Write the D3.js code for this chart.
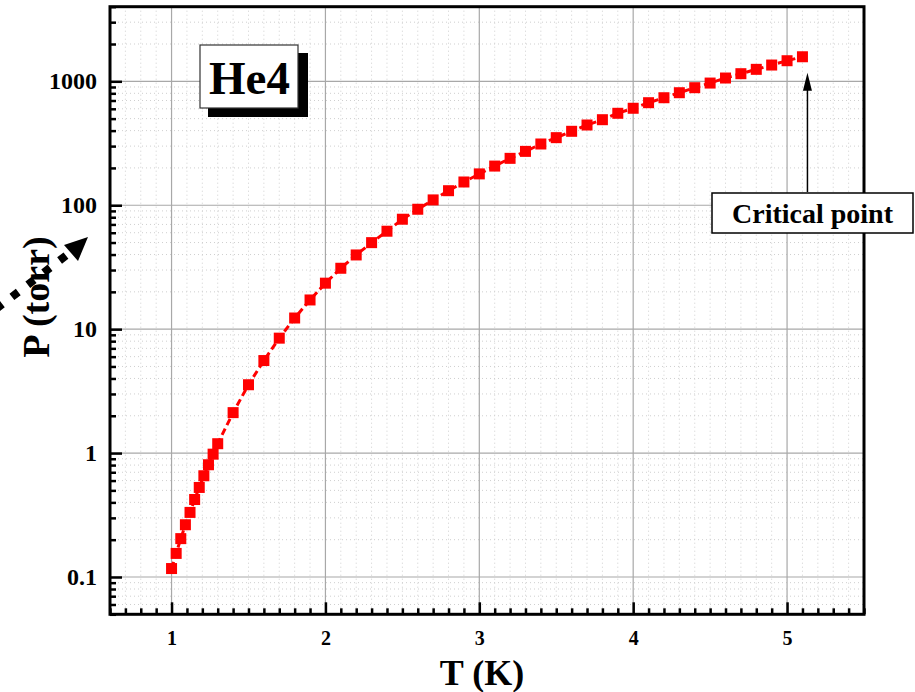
<!DOCTYPE html>
<html>
<head>
<meta charset="utf-8">
<script src="https://d3js.org/d3.v7.min.js"></script>
<style>
  html, body { margin: 0; padding: 0; background: #fff; }
  svg { display: block; }
  text { font-family: "Liberation Serif", "Times New Roman", serif; font-weight: bold; }
</style>
</head>
<body>
<script>
// ---- data ----
const temperatures = [1.00, 1.03, 1.06, 1.09, 1.12, 1.15, 1.18, 1.21, 1.24, 1.27, 1.30,
  1.4, 1.5, 1.6, 1.7, 1.8, 1.9, 2.0, 2.1, 2.2, 2.3, 2.4, 2.5, 2.6, 2.7, 2.8, 2.9,
  3.0, 3.1, 3.2, 3.3, 3.4, 3.5, 3.6, 3.7, 3.8, 3.9, 4.0, 4.1, 4.2, 4.3, 4.4, 4.5,
  4.6, 4.7, 4.8, 4.9, 5.0, 5.1];
const pressures = [0.117, 0.155, 0.204, 0.264, 0.332, 0.422, 0.528, 0.656, 0.805, 0.98, 1.19,
  2.12, 3.56, 5.58, 8.46, 12.3, 17.2, 23.5, 31.0, 39.7, 49.9, 61.7, 77.1, 92.8, 110.4, 131, 154,
  179, 207, 239, 272, 312, 351, 395, 444, 490, 552, 606, 672, 737, 809, 888, 968,
  1063, 1152, 1249, 1353, 1466, 1578];
const xTickValues = [1, 2, 3, 4, 5];
const xTickLabels = ["1", "2", "3", "4", "5"];
const yTickValues = [0.1, 1, 10, 100, 1000];
const yTickLabels = ["0.1", "1", "10", "100", "1000"];
const xDomain = [0.6, 5.5];
const yDomain = [0.05, 4000];
const criticalT = 5.1, criticalP = 1578;

const W = 915, H = 692;
const plot = { left: 110, right: 864, top: 6.7, bottom: 614.3 };

const svg = d3.select("body").append("svg").attr("width", W).attr("height", H);

const x = d3.scaleLinear().domain(xDomain).range([plot.left, plot.right]);
const y = d3.scaleLog().domain(yDomain).range([plot.bottom, plot.top]);

// minor tick values
const xMinor = d3.range(6, 56).map(v => v / 10).filter(v => Math.abs(v - Math.round(v)) > 1e-6 && v >= xDomain[0] - 1e-9 && v <= xDomain[1] + 1e-9);
const yMinor = [];
for (let e = -2; e <= 3; e++) for (let m = 2; m <= 9; m++) {
  const v = m * Math.pow(10, e);
  if (v >= yDomain[0] - 1e-12 && v <= yDomain[1] * 1.0001) yMinor.push(v);
}

// ---- grid ----
const grid = svg.append("g");
grid.selectAll(".xmg").data(xMinor).join("line")
  .attr("x1", d => x(d)).attr("x2", d => x(d))
  .attr("y1", plot.top).attr("y2", plot.bottom)
  .attr("stroke", "#cfcfcf").attr("stroke-width", 1).attr("stroke-dasharray", "1,3");
grid.selectAll(".ymg").data(yMinor).join("line")
  .attr("x1", plot.left).attr("x2", plot.right)
  .attr("y1", d => y(d)).attr("y2", d => y(d))
  .attr("stroke", "#cfcfcf").attr("stroke-width", 1).attr("stroke-dasharray", "1,3");
grid.selectAll(".xMg").data(xTickValues).join("line")
  .attr("x1", d => x(d)).attr("x2", d => x(d))
  .attr("y1", plot.top).attr("y2", plot.bottom)
  .attr("stroke", "#a8a8a8").attr("stroke-width", 1.2);
grid.selectAll(".yMg").data(yTickValues).join("line")
  .attr("x1", plot.left).attr("x2", plot.right)
  .attr("y1", d => y(d)).attr("y2", d => y(d))
  .attr("stroke", "#a8a8a8").attr("stroke-width", 1.2);

// ---- data line + markers ----
const pts = temperatures.map((t, i) => [t, pressures[i]]);
svg.append("path")
  .datum(pts)
  .attr("fill", "none").attr("stroke", "#ff0000").attr("stroke-width", 3)
  .attr("stroke-dasharray", "7,4")
  .attr("d", d3.line().x(d => x(d[0])).y(d => y(d[1])));
const ms = 11;
svg.selectAll(".pt").data(pts).join("rect")
  .attr("x", d => x(d[0]) - ms / 2).attr("y", d => y(d[1]) - ms / 2)
  .attr("width", ms).attr("height", ms)
  .attr("fill", "#ff0000");

// ---- axes ----
const axL = svg.append("g").attr("transform", `translate(${plot.left},0)`)
  .call(d3.axisLeft(y).tickValues(yTickValues).tickFormat((d, i) => yTickLabels[i])
    .tickSize(-12).tickSizeOuter(0).tickPadding(13));
axL.selectAll("text").style("font-size", "24px").attr("fill", "#000");
axL.call(g => g.selectAll(".tick line").attr("stroke", "#000").attr("stroke-width", 2.5));
axL.select(".domain").remove();
svg.append("g").attr("transform", `translate(${plot.left},0)`)
  .call(d3.axisLeft(y).tickValues(yMinor).tickFormat("").tickSize(-6).tickSizeOuter(0))
  .call(g => g.select(".domain").remove())
  .call(g => g.selectAll(".tick line").attr("stroke", "#000").attr("stroke-width", 2.5));

const axB = svg.append("g").attr("transform", `translate(0,${plot.bottom})`)
  .call(d3.axisBottom(x).tickValues(xTickValues).tickFormat((d, i) => xTickLabels[i])
    .tickSize(-12).tickSizeOuter(0).tickPadding(17));
axB.selectAll("text").style("font-size", "20px").attr("fill", "#000");
axB.call(g => g.selectAll(".tick line").attr("stroke", "#000").attr("stroke-width", 2.5));
axB.select(".domain").remove();
svg.append("g").attr("transform", `translate(0,${plot.bottom})`)
  .call(d3.axisBottom(x).tickValues(xMinor).tickFormat("").tickSize(-6).tickSizeOuter(0))
  .call(g => g.select(".domain").remove())
  .call(g => g.selectAll(".tick line").attr("stroke", "#000").attr("stroke-width", 2.5));

// frame
svg.append("rect")
  .attr("x", plot.left).attr("y", plot.top)
  .attr("width", plot.right - plot.left).attr("height", plot.bottom - plot.top)
  .attr("fill", "none").attr("stroke", "#000").attr("stroke-width", 3);

// ---- axis titles ----
svg.append("text").attr("x", 482).attr("y", 685).attr("text-anchor", "middle")
  .style("font-size", "36px").text("T (K)");
svg.append("text").attr("transform", "translate(49,297) rotate(-90)")
  .attr("text-anchor", "middle").style("font-size", "38px").text("P (torr)");

// dotted arrow at left
svg.append("line").attr("x1", -4).attr("y1", 309).attr("x2", 72).attr("y2", 251)
  .attr("stroke", "#000").attr("stroke-width", 8).attr("stroke-dasharray", "8,12");
svg.append("polygon").attr("points", "88,237 64,245 78,261").attr("fill", "#000");

// ---- He4 label ----
svg.append("rect").attr("x", 208).attr("y", 53).attr("width", 100).attr("height", 64).attr("fill", "#000");
svg.append("rect").attr("x", 200).attr("y", 45).attr("width", 98).attr("height", 63)
  .attr("fill", "#fff").attr("stroke", "#333").attr("stroke-width", 1.2);
svg.append("text").attr("x", 249.5).attr("y", 94).attr("text-anchor", "middle")
  .style("font-size", "47px").text("He4");

// ---- Critical point annotation ----
const cx = x(criticalT) + 5, cy = y(criticalP);
svg.append("line").attr("x1", cx).attr("x2", cx).attr("y1", 192).attr("y2", cy + 28)
  .attr("stroke", "#000").attr("stroke-width", 1.5);
svg.append("polygon")
  .attr("points", `${cx},${cy + 16} ${cx - 4.5},${cy + 34} ${cx + 4.5},${cy + 34}`)
  .attr("fill", "#000");
svg.append("rect").attr("x", 712).attr("y", 193).attr("width", 201).attr("height", 40)
  .attr("fill", "#fff").attr("stroke", "#000").attr("stroke-width", 1.5);
svg.append("text").attr("x", 812.5).attr("y", 223).attr("text-anchor", "middle")
  .style("font-size", "28px").text("Critical point");
</script>
</body>
</html>
